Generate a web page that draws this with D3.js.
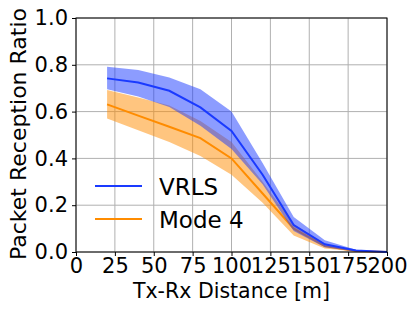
<!DOCTYPE html>
<html>
<head>
<meta charset="utf-8">
<script src="https://cdn.jsdelivr.net/npm/d3@7"></script>
<style>
  body { margin: 0; background: #fff; }
  text { font-family: "DejaVu Sans", sans-serif; fill: #000; }
</style>
</head>
<body>
<div id="chart"></div>
<script>
  const width = 415;
  const height = 311;
  const margin = { top: 18, bottom: 59, left: 76, right: 28 };

  // data
  const distances = [20, 40, 60, 80, 100, 120, 140, 160, 180, 200];
  const vrlsMean  = [0.742, 0.724, 0.689, 0.618, 0.517, 0.33, 0.115, 0.033, 0.006, 0.0];
  const vrlsUpper = [0.792, 0.778, 0.746, 0.695, 0.600, 0.38, 0.150, 0.050, 0.010, 0.0];
  const vrlsLower = [0.695, 0.664, 0.620, 0.540, 0.440, 0.29, 0.090, 0.020, 0.002, 0.0];
  const m4Mean  = [0.631, 0.583, 0.535, 0.487, 0.400, 0.25, 0.100, 0.025, 0.004, 0.0];
  const m4Upper = [0.692, 0.660, 0.626, 0.560, 0.470, 0.30, 0.120, 0.035, 0.006, 0.0];
  const m4Lower = [0.571, 0.520, 0.470, 0.410, 0.330, 0.21, 0.070, 0.015, 0.002, 0.0];
  const xTicks = [0, 25, 50, 75, 100, 125, 150, 175, 200];
  const yTicks = [0, 0.2, 0.4, 0.6, 0.8, 1.0];
  const seriesNames = ["VRLS", "Mode 4"];

  const svg = d3.select('#chart')
    .append('svg')
    .attr('width', width)
    .attr('height', height);

  const x = d3.scaleLinear()
    .domain([0, 200])
    .range([margin.left, width - margin.right]);

  const y = d3.scaleLinear()
    .domain([0, 1])
    .range([height - margin.bottom, margin.top]);

  // grid
  svg.append("g")
    .selectAll("line.vg")
    .data(xTicks)
    .join("line")
    .attr("x1", d => x(d)).attr("x2", d => x(d))
    .attr("y1", y(0)).attr("y2", y(1))
    .attr("stroke", "#b0b0b0").attr("stroke-width", 1);
  svg.append("g")
    .selectAll("line.hg")
    .data(yTicks)
    .join("line")
    .attr("y1", d => y(d)).attr("y2", d => y(d))
    .attr("x1", x(0)).attr("x2", x(200))
    .attr("stroke", "#b0b0b0").attr("stroke-width", 1);

  const area = (lo, hi) => d3.area()
    .x((d, i) => x(distances[i]))
    .y0((d, i) => y(lo[i]))
    .y1((d, i) => y(hi[i]))(distances);
  const line = vals => d3.line()
    .x((d, i) => x(distances[i]))
    .y((d, i) => y(vals[i]))(distances);

  // Mode 4
  svg.append("path").attr("d", area(m4Lower, m4Upper))
    .attr("fill", "#ff8c00").attr("fill-opacity", 0.5);
  svg.append("path").attr("d", line(m4Mean))
    .attr("fill", "none").attr("stroke", "#ff8c00").attr("stroke-width", 2);

  // VRLS
  svg.append("path").attr("d", area(vrlsLower, vrlsUpper))
    .attr("fill", "#1a3aff").attr("fill-opacity", 0.5);
  svg.append("path").attr("d", line(vrlsMean))
    .attr("fill", "none").attr("stroke", "#1a3aff").attr("stroke-width", 2);

  // frame
  svg.append("rect")
    .attr("x", x(0)).attr("y", y(1))
    .attr("width", x(200) - x(0)).attr("height", y(0) - y(1))
    .attr("fill", "none").attr("stroke", "#000").attr("stroke-width", 1);

  // axes
  const xAxis = svg.append("g")
    .attr("transform", `translate(0,${y(0)})`)
    .call(d3.axisBottom(x).tickValues(xTicks).tickFormat(d3.format("d")).tickSizeOuter(0).tickSize(4).tickPadding(2));
  xAxis.select(".domain").remove();
  xAxis.selectAll("text").attr("font-size", "21px").attr("font-family", "DejaVu Sans").attr("fill", "#000");

  const yAxis = svg.append("g")
    .attr("transform", `translate(${x(0)},0)`)
    .call(d3.axisLeft(y).tickValues(yTicks).tickFormat(d3.format(".1f")).tickSizeOuter(0).tickSize(4).tickPadding(4));
  yAxis.select(".domain").remove();
  yAxis.selectAll("text").attr("font-size", "21px").attr("font-family", "DejaVu Sans").attr("fill", "#000");

  // axis titles
  svg.append("text")
    .attr("x", (x(0) + x(200)) / 2)
    .attr("y", 298)
    .attr("text-anchor", "middle")
    .style("font-size", "20.5px")
    .text("Tx-Rx Distance [m]");

  svg.append("text")
    .attr("transform", `translate(26,${(y(0) + y(1)) / 2 - 1}) rotate(-90)`)
    .attr("text-anchor", "middle")
    .style("font-size", "22px")
    .text("Packet Reception Ratio");

  // legend
  const legendColors = ["#1a3aff", "#ff8c00"];
  const legend = svg.append("g")
    .selectAll("g")
    .data(seriesNames)
    .join("g")
    .attr("transform", (d, i) => `translate(95,${186 + i * 33})`);
  legend.append("line")
    .attr("x1", 0).attr("x2", 47)
    .attr("stroke", (d, i) => legendColors[i]).attr("stroke-width", 2);
  legend.append("text")
    .attr("x", 64).attr("y", 8.5)
    .style("font-size", "23px")
    .text(d => d);
</script>
</body>
</html>
